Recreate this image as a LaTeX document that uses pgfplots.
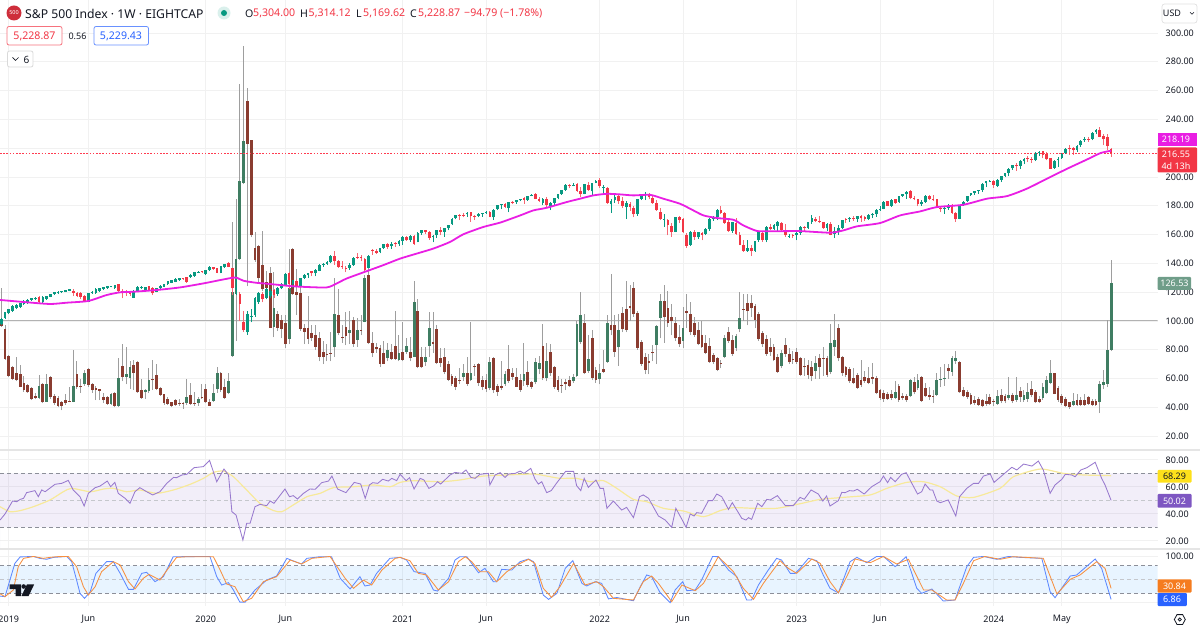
\documentclass[border=0pt]{standalone}
\usepackage{fontspec}
\usepackage{pgfplots}
\usepackage{pgfplotstable}
\pgfplotsset{compat=1.18}
\setmainfont{Noto Sans}
\definecolor{up}{HTML}{089981}
\definecolor{dn}{HTML}{F23645}
\definecolor{dotr}{HTML}{FF3B50}
\definecolor{bup}{HTML}{3F7D62}
\definecolor{bdn}{HTML}{8A3C30}
\definecolor{wk}{HTML}{9E9E9E}
\definecolor{gridc}{HTML}{F1F1F1}
\definecolor{txt}{HTML}{131722}
\definecolor{mag}{HTML}{E91EE3}
\definecolor{rsi}{HTML}{7E57C2}
\definecolor{rsima}{HTML}{F7E99A}
\definecolor{kb}{HTML}{2962FF}
\definecolor{do}{HTML}{F57C1F}
\definecolor{band}{HTML}{8C8F99}
% j o h l c  (weekly bars, j=0 is the first week of 2019)
\pgfplotstableread{
j o h l c
-1 100 123 96 96.5
0 94.5 97 73 73.5
1 76 76.5 61 62
2 68 69 59 60
3 64 75 58 59
4 63.5 69.5 54 54.5
5 57 62 51 52
6 55.5 56 50 50.5
7 53.5 54.5 45 45.5
8 48 50 45.5 46.5
9 46.5 62.5 46 55
10 56 57 43 43.5
11 44 63 44 56.5
12 61 62 46 47
13 48 49 42 43
14 46.5 48 40 41
15 43.5 44.5 38 41
16 45 49 42 43
17 44.5 54 43.5 44
18 44 80 43.5 55
19 63.5 72 53 54
20 55 60 50 54.5
21 56 66 55 64
22 66.5 67 54 55.5
23 56.5 57 50 52
24 53.5 55 45 52.3
25 52.5 53 45 51.5
26 47.5 50 43 45
27 47 48 42 42.5
28 42.5 50 42 49.5
29 50 51 40 41
30 41 74 40.5 60.5
31 68.5 84 58 61
32 61 82 56 63
33 60.5 72 53 68
34 69.5 73 52 64
35 71.5 72 50 50.5
36 52 60 46 46.5
37 50.5 53 46 52
38 51.5 67 50 59
39 59.5 73 52 59
40 62.5 70 52 53
41 53.5 54 48 48.5
42 49 49.5 42 43
43 45.5 47 42 42.5
44 43.5 44 40 41
45 45 46 41 41.5
46 43 46 41 42.5
47 43 44 39 42.5
48 43 60 42 47
49 48.5 57 42 42.5
50 43 51 41 42.5
51 43 47 41 46
52 47.3 56 46 47
53 53 56 43 43.5
54 44 46 41 41.3
55 44.5 56 44 50
56 52.5 68 50 64
57 64 64.5 51 52
58 54.5 60 46 46.5
59 50 64 49 58
60 75.8 169 75 120
61 119 185 86 143
62 143 264.5 142 197
63 196 291 195 225
64 252.5 262 124 223
65 225.8 226 158 159.5
66 150.8 162 141 142
67 152 153 127 130
68 138.8 162.5 121 122
69 127 135 115 123
70 133 137.6 95 95
71 95.6 133.7 88.7 108.8
72 104.6 107 93 95.4
73 101 104 88 94.7
74 98.4 104 81 83.9
75 87.5 150.3 84 122.6
76 150.3 151 118 118.7
77 120.3 136 104 118
78 119.6 125 93 94.3
79 95 98 84 92.4
80 95 117 84 87.5
81 91.5 97 86 88
82 90.3 97 80 82
83 88.5 92 72 75.3
84 78.8 86 70 75
85 77.2 84 72 76.5
86 78 92 72 77.3
87 81.6 130 75 104.9
88 104 122 90 91.5
89 89 97 85 88
90 95.6 106 83 89.6
91 91.5 107 84 94
92 100.7 103 82 84
93 87 102 82 93.8
94 94 104 90 93.3
95 99.6 132 99 130
96 131.6 137 84 84.6
97 84.6 92 75 77.6
98 81.8 85 78 80.6
99 81 83 68 70.3
100 77.6 86 70 70.3
101 74.2 85 72 79.5
102 78.8 84 73 73.5
103 82.7 107 73 73.5
104 73 90 72 77.6
105 78.7 99 72 73
106 78.7 88 77 82.7
107 78.7 89 72 74
108 75.3 128 75 112.9
109 107 115.5 67 68
110 74.8 82 67 67.7
111 71.4 82 69 75.3
112 82.7 106 75 95.4
113 85.7 106 78 83.8
114 94.2 97 70 70.7
115 74.1 81 68 71.1
116 74.8 81 63 64.4
117 70 72 58 59.1
118 61.9 63 55 56.1
119 60.3 62 52 54.5
120 59.1 67 56 58.7
121 61 70 58 63.7
122 63.7 75 55 56.4
123 58.7 99 58 63.7
124 68.8 70 62 68.4
125 70 71 55 56.8
126 59.1 62 52 54
127 59 63 51 52.7
128 53.4 75 52 71.4
129 74.1 75 50 51.8
130 55 56 48 51
131 55 72 52 53.8
132 56.4 65 55 63.3
133 66.8 83 57 58
134 63.7 67 59 61.4
135 61 67 54 54.5
136 58.7 63 51 52.2
137 58 85 55 63.3
138 64.4 72 54 55.7
139 57.3 58 53 54.5
140 57.3 74 56 71.8
141 66.5 76 63 71.1
142 82.7 98 59 60.3
143 60.3 85 58 72.3
144 78.3 84 62 63.7
145 67.9 69 53 54.5
146 59.1 62 51 52.2
147 55.7 60 50 55.2
148 57.3 60 52 56.1
149 59.1 62 54 55
150 58 63 57 61
151 61.9 100 61 97.9
152 85.7 120 84 104.4
153 98.8 105 63 63.7
154 65 90 64 73.4
155 88.4 94 59 60.3
156 66 68 57 58.7
157 59.6 70 56 64.2
158 66.5 80 64 64.9
159 71.8 104 71 98.8
160 97.2 132.5 90 93.4
161 97.2 104 75 78.7
162 81.7 105 69 93.7
163 105.7 110 92 94.2
164 108.3 128 92 93.7
165 110.4 125 100 108.7
166 122.6 127 103 104.6
167 105.7 107 80 81.5
168 85.7 87 69 70.2
169 75.3 78 63 66
170 72.3 77 63 70.7
171 78.7 83 72 77.6
172 83.4 97 70 96.5
173 102.3 119 88 113.8
174 114 125 85 102.5
175 108.7 121 96 98.4
176 102.5 112 90 99.7
177 98.8 103 86 88
178 89.1 97 82 83.8
179 86.4 110 81 94.9
180 107 119 95 105.7
181 104.6 113 90 92.1
182 98.4 103 89 90.3
183 93.7 99 83 83.8
184 90.3 100 81 82.2
185 85 90 77 78
186 82.9 88 71 71.8
187 76.4 78 70 71.4
188 74.1 75 65 66
189 71.1 73 67 70.7
190 75.3 90 74 88
191 92.1 96 85 86.4
192 86.8 90 76 77.1
193 80.9 91 79 89.6
194 94.2 120 92 101.8
195 108.3 119 100 107.8
196 112.7 119 97 106.9
197 112.2 118 103 108.7
198 110.4 112 95 100.7
199 104.8 106 86 87.3
200 91.9 93 82 83.8
201 87.5 90 76 76.9
202 81.7 88 76 78.7
203 82.2 84 72 73
204 75.3 77 64 64.9
205 68.4 80 67 78
206 83.4 88 75 76.9
207 77.1 81 70 71.4
208 73.7 79 70 73
209 78.7 81 70 71.4
210 74 75 62 62.6
211 68.5 74 62 68
212 69.5 73 60 62.6
213 67.9 72 58 61.9
214 65.6 76 60 70.7
215 74.1 77 60 67.9
216 74.6 82 62 74.1
217 74.6 76 61 62.6
218 64.9 98 63 84.5
219 82.2 105 76 86.8
220 94.9 98 72 74.1
221 75.3 76 62 63.7
222 67.9 69 61 62.6
223 66.5 68 57 58
224 60.3 67 56 56.8
225 62.6 64 53 53.8
226 58.7 73 54 55.7
227 61.4 65 57 58
228 60.3 68 56 56.8
229 61.4 71 56 59.6
230 60.3 62 49 49.9
231 52.2 53 45 46.4
232 49.9 52 44 45.8
233 49.4 51 45 45.8
234 49.4 52 45 46.4
235 46.4 58 46 50.6
236 55 56 44 45.3
237 47.6 50 45 46.4
238 48 49 44 44.8
239 47.6 60 47 58.7
240 57.3 61 49 50.4
241 53.8 63 52 59.1
242 61.4 62 44 44.6
243 53.4 57 47 47.6
244 48.8 54 45 47.1
245 48 52 43 47.1
246 48.8 64 48 58.7
247 59.1 68 54 59.8
248 59.6 70 55 60.3
249 67.2 70 60 65.6
250 64.9 76 62 74.1
251 72 79 70 74.1
252 71.8 72 50 50.4
253 52.2 54 47 47.6
254 51 52 46 47.1
255 48.8 50 42 42.3
256 44.8 48 42 43
257 45.8 47 41 41.8
258 44.8 46 40 41.1
259 44.1 49 41 42.5
260 47.1 49 42 42.3
261 44.1 46 41 43.7
262 42.5 52 42 47.6
263 48.3 53 43 44.1
264 47.6 49 43 44.1
265 46.4 61 45 48.8
266 48.8 50 43 44.1
267 45.3 61 44 48.8
268 51.5 54 44 47.1
269 44.8 52 44 48.8
270 46 57 44 50.4
271 52.7 58 47 48.8
272 50.4 52 43 43.4
273 45.8 48 43 43.7
274 46.4 57 45 54.5
275 49.9 62 49 59.1
276 56.8 73 56 63.7
277 63.7 64 49 49.4
278 53.4 55 44 45.3
279 48 49 42 43
280 45.8 47 40 40.7
281 43.4 44 39 40.2
282 41.8 50 41 44.1
283 45.3 49 41 41.8
284 44.8 47 41 41.8
285 45 49 41 42
286 47.1 48 42 42.3
287 44.1 46 41 41.8
288 44.6 46 41 41.4
289 43.4 58 36 56.4
290 55.4 66 53 57.3
291 56.4 100.7 54 79.9
292 79.9 142 79 126.53
}\vixdata
\pgfplotstableread{
j o h l c
-1 98 102 97 101.5
0 102 106.5 101.5 106
1 105.3 108.5 104.5 108.1
2 107.2 110.8 106.5 110.4
3 108.8 111.5 108 111
4 109.5 112.6 109 112.2
5 111.8 114.3 111 113.9
6 112.2 115 111.7 114.6
7 114.6 116 114 115.7
8 115.2 116.5 114.8 116.2
9 116.9 117.2 112.3 113
10 113 117.2 112.5 116.9
11 115.2 117.6 114.8 117.3
12 116.9 118.9 116.4 118.5
13 118.5 120.2 118 119.9
14 119.2 120.7 118.7 120.3
15 119.9 121.1 119.4 120.8
16 120.3 121.8 120 121.5
17 121 122.5 120.5 122.2
18 120.5 122 117 119.5
19 119.6 120.4 116.5 117.3
20 119.2 120 115.3 116.9
21 117.3 118 113 114.1
22 113.4 119.5 113 119.2
23 119.2 120.5 118.8 120.1
24 119.2 122.6 118.8 122.2
25 120.8 123 120.4 122.6
26 122.2 123.6 121.5 123.3
27 122.6 124.6 122.3 124.2
28 123.8 124.6 123.3 124.2
29 122.6 125.3 122.2 124.9
30 125.4 125.8 120 121
31 121 122 115.7 119.2
32 121 121.5 117.3 119.2
33 120.3 121 117.5 118.7
34 116.2 121.2 115.8 120.8
35 120.3 124.2 120 123.8
36 122.6 124.2 122 123.8
37 121.5 123.7 121 123.3
38 124.2 124.6 121 121.5
39 123.1 123.6 118 119.2
40 120.3 123 119.8 122.6
41 122.6 124.9 122.2 124.5
42 123.8 125.8 123.4 125.4
43 125.4 128 125 127.7
44 126.6 128.8 126.2 128.4
45 127.2 129.5 126.8 129.1
46 128.4 129.9 128 129.5
47 129.5 129.9 128.6 129
48 130.2 130.6 126.5 127.2
49 130.2 132.3 129.8 131.9
50 131.2 134 130.8 133.7
51 133.7 134.6 133.3 134.2
52 134.6 135 133.3 133.7
53 132.5 135.7 132 135.3
54 135.3 138 135 137.6
55 137.2 137.6 135.4 135.8
56 136.5 137 133 133.5
57 133.5 138.4 133 138
58 137.2 139.9 136.8 139.5
59 140.4 140.9 137.2 137.6
60 136.5 137 118 122.6
61 122 130 118 123
62 119 120 100 112
63 99.5 107 92.5 93.5
64 92 107 90.5 105
65 103 108 99 103.5
66 104 116.7 103 115.8
67 113.5 120 112 119.2
68 119 120 113 115
69 116 123 115 122.5
70 117.5 122 116 121
71 121.5 122.5 116 118
72 118.7 123.5 117.5 122.6
73 122.6 126.5 122 125.9
74 125 133 124.5 132.3
75 133 134 122 125.5
76 126 128.8 123 128.3
77 128 129 124 124.6
78 124.6 129.8 123.5 129.6
79 130 132.3 129 131.8
80 132 133.5 130 133
81 134.5 135 131 133.1
82 133 136 131 135.5
83 135 139.5 134.5 139
84 139 140 137.5 139.7
85 139.7 141.5 139 140.7
86 140.7 145.5 140 145.3
87 145.3 148.6 139 141.9
88 141.5 142.5 137 137.8
89 138.5 141.5 136 137.4
90 137 138.5 133.8 136.6
91 137 140.5 135.5 138.7
92 139 144.5 138.5 144
93 144.5 147.5 143 144.2
94 144.5 146 141.5 143.5
95 143 143.5 134.5 135.4
96 137 146 136.5 145.3
97 149 150 146 148.5
98 148.5 150 146.5 147.3
99 148 151 147 150.7
100 151 153.7 150 153.2
101 153.5 154 150 151.7
102 151.8 154.5 150 153.6
103 154 155 151.5 153.4
104 153.7 156.5 152 155.6
105 155.8 158.8 153 158.4
106 158.2 158.7 155.8 156
107 156 159.5 155 159
108 159 159.8 153 153.8
109 155 161.5 154.5 161
110 161.2 163.2 160 162.9
111 163 163.5 160.5 161.8
112 161.5 162.5 156.5 157.8
113 158 160 154.5 159.1
114 159.5 163.5 157.5 163.3
115 163 165 159.5 162.1
116 162 164.8 158.5 164.6
117 164.5 166.8 163 166.4
118 167 171.2 166.8 171
119 171.2 173.5 170.5 173.3
120 173.3 174 170 173.1
121 173.4 175 172 173.2
122 174 175.5 172.5 175.3
123 175.5 175.8 169 172.8
124 173 173.8 170 172.1
125 173 175 172 174.1
126 174.3 175.3 172.5 175.1
127 175.3 176.3 174.5 175.9
128 176 176.3 172 172.5
129 172 177.5 170.2 177.3
130 177.5 180.4 177 180.2
131 180.3 181.3 177.5 180.9
132 181 182.2 178.8 179.2
133 178.5 182.8 175.5 182.7
134 182.8 183.5 181 182
135 182.3 184 181.5 183.7
136 183.8 185 183 185
137 185.3 185.8 181.5 183.9
138 184.2 186.9 183.5 186.7
139 187 188.3 186.5 187.8
140 188 188.6 184.5 184.6
141 185 186.3 182.5 183.6
142 182 185.5 180.5 184.5
143 185 186 178.5 180.4
144 180 182.5 177 181.9
145 182 185.5 180.5 185.2
146 185.5 188.5 184.5 188.2
147 188.5 191 187.5 190.7
148 191 195 190.5 194.5
149 194.6 195.2 192 193.9
150 194.2 196 193.5 194.5
151 195 196 189.8 190.3
152 190.5 193 186.3 187.9
153 188.5 195.3 188 195.1
154 194.5 196.5 190.5 191.3
155 190 196 186.5 195.7
156 196 197.7 195.5 197.4
157 197.8 199 192.5 193.7
158 193 194.5 189 193.1
159 192.5 193 181.5 182.1
160 181 184.5 175 183.5
161 184 187.5 182 186.4
162 186.5 187.5 181.5 183
163 183 186 178.5 180.1
164 179 183 170.8 181.6
165 181 182.5 176.5 179.2
166 178.5 179.5 172 174.1
167 174.5 185 173 184.8
168 185 188.5 184 188.1
169 188 189.5 184 188.2
170 188.3 189 184.5 185.9
171 185.5 186.5 181.5 181.9
172 182 184 176.5 176.9
173 176 178.5 170 171.1
174 170.5 174.5 165.5 170.8
175 170 171 159.5 166.6
176 166 168 158.5 161.6
177 162 172.4 161.5 172.2
178 172 173 168 170.1
179 171 171.5 161 161.5
180 160 161 151 152.2
181 152.8 162.5 152 162
182 162 163 156.5 158.4
183 158 162 157 161.5
184 161 161.5 156 160
185 160.5 164.5 159.5 164
186 164 171.5 162.5 171
187 170.5 173 169.5 171.7
188 172 178 170 177.3
189 177 179.5 174.5 175.1
190 175 176 167.5 168
191 168.5 170 162 162.5
192 162.5 169 161 168.4
193 168 171.5 160 160.4
194 160 162 152.5 152.9
195 152.5 156 148 148.5
196 148.5 156 148 150.7
197 150.5 152.5 145 148.4
198 148.5 155.8 148 155.4
199 156 162.5 155 161.6
200 161 162.5 155 156.1
201 156 166 154.5 165.3
202 165 167.5 163 164.2
203 164 167 163.5 166.7
204 166 169.5 162.5 168.6
205 168.3 168.5 162.5 162.9
206 163.5 167.5 158.5 159.5
207 159 160.5 157.5 159.2
208 159.5 160.5 157.5 159
209 159.5 162 156 161.3
210 161 166 160 165.6
211 165.5 166 162.5 164.5
212 164.5 169 164 168.6
213 168.5 173.5 167.5 171.3
214 171 172 168.5 169.4
215 169.5 172.7 168 168.9
216 168.5 169 164 164.4
217 164.5 168 162.5 167.5
218 167.5 168.8 159.5 159.9
219 160.5 165 157.5 162.2
220 162.5 166.5 160 164.5
221 164.8 170.3 164 170.2
222 170.5 171.5 168 170
223 170.5 172.5 169 171.3
224 171.5 172.6 169.5 171.2
225 170.8 173 168.5 172.7
226 172.8 173.5 168.8 171.3
227 172 173 169.5 170.8
228 171 174 170 173.6
229 173.5 175 171.5 174.2
230 174 178 172.5 177.3
231 177.7 179.5 176.5 178
232 178 183 177.5 182.6
233 183 183.5 179.5 180.1
234 180 184.5 179 184.3
235 184.5 185 181.5 182.1
236 182.5 187 182 186.6
237 186.8 188.5 186 187.9
238 188 190 185 189.8
239 190 190.8 184.5 185.5
240 185.5 187 184 184.9
241 184.5 185 179.5 180.9
242 181 184 180 182.4
243 182.5 187.5 182 187
244 187 187.5 183.8 184.6
245 185 187.3 183.5 184.3
246 184.5 185 178.5 178.9
247 178.5 179.5 175.5 177.6
248 178 179.5 174.5 178.4
249 178.5 181.5 177 179.2
250 179.5 181 174.5 174.9
251 175 175.5 169 170.5
252 171 180.7 170.5 180.5
253 180.7 183 180 182.8
254 183 187 182.5 186.9
255 187.2 189.2 186.8 188.8
256 189 190.5 187.5 190.3
257 190.2 191 188.5 190.7
258 191 195.6 189.5 195.4
259 195.5 197 193 196.9
260 197 198 196.5 197.5
261 197.4 197.7 192.5 194.5
262 194 198.5 193 198.1
263 198 200.5 196.5 200.4
264 201 203 200 202.6
265 202.8 206 200.5 205.4
266 206 208.5 205 208.2
267 208.5 209.5 204 207.3
268 207.5 211.5 205.5 210.8
269 211 213 209 212.7
270 213 214.5 210.5 212.2
271 212.5 214 210 211.9
272 212 217.5 211 216.8
273 217 218 214.5 217.6
274 218 218.2 213 215.5
275 216 217.5 211.5 212.2
276 213 213.5 205.5 205.7
277 206.5 212 205.5 211.2
278 211.5 214 207 212.4
279 213 216.5 212.5 216.3
280 216.5 220 216 219.6
281 220 222 215.5 219.7
282 220 221 215.5 218.6
283 219 222.5 217.5 221.4
284 222 225.5 221 224.9
285 225.5 228 224.5 226.3
286 226.5 227.5 224.5 226.1
287 226.5 231 225.5 230.6
288 231 233.5 229.5 232.5
289 232.5 235 227.5 228
290 228.5 230 222 226.1
291 227.5 230 218.5 221.4
292 219.66 220.07 214.1 216.55
}\spxdata
\newcommand\ubars[3]{\addplot[draw=none,mark=none,forget plot,restrict expr to domain={\thisrow{c}-\thisrow{o}}{0:100000},
  error bars/.cd,y dir=plus,y explicit,error mark=none,error bar style={draw=#2,line width=#3}]
  table[x=j,y=o,y error plus expr=\thisrow{c}-\thisrow{o}]{#1};}
\newcommand\dbars[3]{\addplot[draw=none,mark=none,forget plot,restrict expr to domain={\thisrow{o}-\thisrow{c}}{0:100000},
  error bars/.cd,y dir=plus,y explicit,error mark=none,error bar style={draw=#2,line width=#3}]
  table[x=j,y=c,y error plus expr=\thisrow{o}-\thisrow{c}]{#1};}
\newcommand\uwick[3]{\addplot[draw=none,mark=none,forget plot,restrict expr to domain={\thisrow{c}-\thisrow{o}}{0:100000},
  error bars/.cd,y dir=plus,y explicit,error mark=none,error bar style={draw=#2,line width=#3}]
  table[x=j,y=l,y error plus expr=\thisrow{h}-\thisrow{l}]{#1};}
\newcommand\dwick[3]{\addplot[draw=none,mark=none,forget plot,restrict expr to domain={\thisrow{o}-\thisrow{c}}{0:100000},
  error bars/.cd,y dir=plus,y explicit,error mark=none,error bar style={draw=#2,line width=#3}]
  table[x=j,y=l,y error plus expr=\thisrow{h}-\thisrow{l}]{#1};}
\pgfplotsset{pane/.style={
  scale only axis,width=1157.5pt,xmin=-1.32,xmax=304.25,
  xtick={1,22,53,74,105,127,157,179,209,231,261,279},
  xmajorgrids,ymajorgrids,grid style={draw=gridc,line width=0.9pt},
  axis line style={draw=none},tick style={draw=none},
  yticklabel pos=right,
  yticklabel style={anchor=west,inner sep=0pt,xshift=8pt,font=\fontsize{9}{9}\selectfont,text=txt,
    /pgf/number format/.cd,fixed,fixed zerofill,precision=2,assume math mode=true},
  scaled y ticks=false,
  anchor=south west}}
\begin{document}
\begin{tikzpicture}[x=1pt,y=1pt]
\path[use as bounding box] (0,0) rectangle (1200,627);
% main pane
\begin{axis}[pane,at={(0pt,178pt)},height=449pt,ymin=11.1,ymax=322.9,
  ytick={20,40,...,300},xticklabels={},
  yticklabels={20.00,40.00,60.00,80.00,100.00,120.00,140.00,160.00,180.00,200.00,,240.00,260.00,280.00,300.00}]
\addplot[forget plot,color=black!30,line width=1pt] coordinates {(-1.32,100)(304.25,100)};
\uwick{\vixdata}{wk}{1pt}
\dwick{\vixdata}{wk}{1pt}
\ubars{\vixdata}{bup}{2.8pt}
\dbars{\vixdata}{bdn}{2.8pt}
\uwick{\spxdata}{up}{0.9pt}
\dwick{\spxdata}{dn!75}{0.9pt}
\ubars{\spxdata}{up}{2.7pt}
\dbars{\spxdata}{dn}{2.7pt}
\addplot[forget plot,draw=dotr,line width=1.1pt,dash pattern=on 1.6pt off 1.6pt,line cap=butt] coordinates {(-1.32,216.55)(304.25,216.55)};
\addplot[forget plot,color=mag,line width=1.8pt,smooth,tension=0.4] coordinates {
(-1.3,114.6)(5.7,113)(11.9,111.8)(16.3,112.7)(22,113.9)(26.8,118)(30.4,119.9)(33.9,120.3)(40,121.5)(46.2,123.3)(52.4,126.1)(56.8,128.4)(60,130)(61.2,130)(63,127.9)(66.4,126.5)(69.1,125.9)(74.4,124.5)(77.9,123.8)(84.9,123.3)(87.6,126.1)(90.2,129.5)(95.5,134.6)(99.9,138.8)(104.3,143.3)(108.7,146.8)(113.1,150.3)(117.5,154.9)(121,160.2)(126.3,165.3)(130.7,168.3)(136,173.3)(139.5,176.8)(143,178.6)(148.3,182.6)(151.8,184.9)(155.3,187.2)(158.9,188.3)(162.4,187.9)(165.9,187.2)(170.3,187.6)(173.8,184.9)(178.2,181.4)(181.7,176.8)(184.4,173.3)(187.9,171.5)(192.3,170.3)(194.9,166.4)(198.5,162.5)(202,162.3)(209.9,162.4)(217.8,161.3)(221.3,162.9)(224.9,165.7)(231,168)(236.3,173.3)(241.6,176.1)(246,179.1)(253,180.7)(259.2,184.9)(264.5,186.7)(269.7,191.8)(275,198.7)(280.3,205.6)(285.6,212.1)(289.1,216.5)(291.3,217.9)(292,218.19)};
\end{axis}
% RSI pane
\begin{axis}[pane,at={(0pt,79pt)},height=98pt,ymin=14.7,ymax=87.3,ytick={20,40,60,80},xticklabels={}]
\addplot[forget plot,fill=rsi,fill opacity=0.1,draw=none] coordinates {(-1.32,30)(304.25,30)(304.25,70)(-1.32,70)} \closedcycle;
\addplot[forget plot,color=band,line width=0.9pt,dash pattern=on 4pt off 3pt] coordinates {(-1.32,70)(304.25,70)};
\addplot[forget plot,color=band!50,line width=0.9pt,dash pattern=on 4pt off 3pt] coordinates {(-1.32,50)(304.25,50)};
\addplot[forget plot,color=band,line width=0.9pt,dash pattern=on 4pt off 3pt] coordinates {(-1.32,30)(304.25,30)};
\addplot[forget plot,color=rsima,line width=1.2pt,smooth,tension=0.4] coordinates {
(-1.3,45.3)(1.3,41.6)(4,42.4)(7.5,45.3)(11.9,50.3)(15.4,56.4)(17.6,58.9)(22.5,56.4)(26,58.4)(28.6,58.9)(32.1,56.4)(35.6,57.7)(40,55.2)(44.5,57.7)(48.9,61.9)(52.4,66.3)(55,70.7)(57.7,71.7)(60.3,67.5)(63.8,57.7)(67.3,47.8)(70.9,42.4)(73.1,41.6)(76.1,46.6)(79.7,52.7)(83.2,55.2)(86.7,59.4)(92,60.1)(97.3,61.4)(101.7,60.1)(104.3,63.3)(107.8,64.6)(114.9,63.8)(120.1,65.1)(126.3,68)(132.5,68.8)(139.5,69.5)(143,68)(146.5,66.3)(150.9,66.3)(154.5,63.8)(158,64.6)(161.5,58.9)(165.9,50.7)(169.4,49)(173.8,44.1)(179.1,42.1)(184.4,37.9)(188.8,42.4)(192.3,44.6)(197.6,44.1)(203.7,44.1)(209.9,47.5)(215.2,50.7)(221.3,52.2)(228.4,54)(232.8,58.9)(238,63.3)(242.5,63.8)(246.9,60.1)(251.3,53.2)(255.7,52.2)(262.7,58.9)(266.2,67.5)(273.3,73.2)(279.4,70)(284.7,68.8)(292,68.29)};
\addplot[forget plot,color=rsi!80,line width=0.85pt] coordinates {
(-1.3,35.4)(0,39.9)(2,49.5)(3.1,49)(4,50.7)(4.9,51.5)(5.7,55.7)(7.9,57.2)(8.8,52.7)(9.7,57.7)(10.6,56.4)(13.2,61.9)(15,62.6)(16.7,64.8)(18,57.7)(19.8,52.7)(20.9,45.8)(22,55.2)(23.8,59.4)(25.1,60.6)(27,64.3)(27.9,60.1)(29,63.3)(29.9,55.2)(31.7,51.5)(33,47.8)(34.3,56.4)(35.6,59.4)(37.4,56.4)(39,54)(40.9,56.4)(42.7,62.6)(44.5,67)(45.3,66.8)(46.7,68.8)(48,69.3)(49.9,74.2)(52.4,75)(54,79.6)(55.9,63.8)(57.8,73.2)(59,68.8)(59.9,41.6)(61,39.1)(62.8,20.6)(63.8,33)(64.7,33)(66,45.3)(67.3,47)(69.1,46.1)(70,49.5)(71,47.8)(73.9,58.4)(75.1,52.7)(76.1,53.5)(77.2,51)(78.8,55.2)(80.5,58.4)(81.9,58.2)(83.6,63.1)(85.4,64.3)(86.3,68)(87.8,58.4)(90,55.7)(92.2,63.3)(93.9,62.1)(95.1,51.5)(96.2,61.4)(97.1,63.1)(98.4,62.6)(99.7,65.6)(101.2,64.3)(102.1,66.3)(103.4,64.6)(104.3,69.3)(105.9,64.6)(106.8,66.8)(108,58.4)(109.6,66.3)(110.6,65.1)(111.9,58.9)(113.1,60.6)(114.2,63.8)(115,62.1)(117.5,68.8)(118.8,70.7)(120.6,70)(121.7,72.5)(123,67)(124.1,66.3)(125.4,69.3)(127.6,70)(128,61.4)(129.4,68.8)(130.7,70.5)(132,67)(132.9,69.5)(134.7,70)(136,71.7)(137,70)(138.8,73.7)(139.9,65.8)(140.8,62.1)(141.7,63.8)(143,55.7)(144.2,57.2)(145.7,63.1)(148,71.5)(150.1,71.5)(150.9,60.9)(152,57.2)(152.9,66.3)(154,59.6)(156,65.1)(157.1,58.9)(158,58.9)(158.9,44.1)(160.6,49.5)(162.8,42.8)(164.1,44.8)(165.9,37.2)(167.5,52.7)(168.5,54)(169.9,51.5)(172.5,38.4)(174.3,35.4)(176,30)(177.1,44.1)(178.7,35.9)(179.8,30)(180.9,39.9)(181.9,38.4)(182.6,40.9)(183.9,40.4)(185.7,49.8)(186.8,49.8)(187.9,54.7)(189.2,52.7)(191,43.3)(192,48.3)(194.5,36.7)(195.6,35.4)(196.3,37.2)(197.1,35.9)(198.7,47.8)(199.8,45.3)(201.1,50.7)(202,50.3)(203.9,53.5)(206,46.1)(208.1,46.1)(209.9,52.2)(211,50.8)(212.8,57.7)(214.7,54.7)(215.9,49.5)(216.9,53.2)(217.8,45.8)(220,49.8)(220.9,55.9)(221.8,55.7)(222.9,57.2)(224,56.9)(225,58.2)(226.8,54.7)(228.8,60.1)(231,63.8)(231.9,68)(233,63.1)(233.8,67)(235,63.8)(236.7,69.3)(237.9,70.5)(239.4,62.6)(240.9,54.7)(242,56.4)(242.9,62.1)(244.2,57.7)(244.9,57.7)(246,49.5)(246.9,48.3)(249,50.3)(251,38.4)(252,52.7)(253.9,58.9)(255.7,62.6)(257,62.6)(258.3,68)(260.1,69.5)(261.1,63.3)(263.6,69.3)(265.8,74.5)(267.1,72.5)(268.9,76.9)(271.1,75.4)(272.8,79.1)(274.1,72.5)(275.9,55.2)(277.2,61.4)(279,65.6)(279.9,69.3)(281.6,68.8)(282.5,67.5)(284,72.5)(285.6,74.2)(287.8,78.2)(289.5,66.3)(290.4,61.4)(292,50.02)};
\end{axis}
% Stochastic pane
\begin{axis}[pane,at={(0pt,21pt)},height=56pt,ymin=-7.4,ymax=114,ytick={0,100},yticklabels={,100.00},
  xticklabels={2019,Jun,2020,Jun,2021,Jun,2022,Jun,2023,Jun,2024,May},
  xticklabel style={anchor=center,inner sep=0pt,yshift=-13pt,font=\fontsize{9}{9}\selectfont,text=txt}]
\addplot[forget plot,fill=kb!70!cyan,fill opacity=0.1,draw=none] coordinates {(-1.32,20)(304.25,20)(304.25,80)(-1.32,80)} \closedcycle;
\addplot[forget plot,color=band,line width=0.9pt,dash pattern=on 4pt off 3pt] coordinates {(-1.32,80)(304.25,80)};
\addplot[forget plot,color=band!50,line width=0.9pt,dash pattern=on 4pt off 3pt] coordinates {(-1.32,50)(304.25,50)};
\addplot[forget plot,color=band,line width=0.9pt,dash pattern=on 4pt off 3pt] coordinates {(-1.32,20)(304.25,20)};
\addplot[forget plot,color=kb!75,line width=0.85pt] coordinates {
(-1.3,14)(0,12.8)(1.3,48.9)(2.6,85)(4,99)(7.5,100)(9.2,95.9)(11,93.8)(12.8,98)(16.3,100)(17.6,88.7)(18.9,48.9)(19.8,20)(21,9.2)(22.5,23.6)(24,63.4)(26.8,88.7)(28.6,88.7)(30.4,63.4)(32.6,28.7)(33.9,28.7)(36.1,63.4)(37.4,65.6)(39.6,45.3)(41.8,56.2)(44.4,99.5)(46.2,99.5)(54.1,100)(55.9,56.2)(57.2,38.1)(59,43.2)(60.3,27.3)(62,1)(63.4,1)(66,27.3)(69.1,48.9)(71.7,57.6)(74.4,95.9)(76.6,88.7)(78.3,83.6)(79.7,95.9)(83.2,99.5)(86.2,99.5)(88.5,52.6)(91.1,29.5)(93.7,56.2)(95,36)(96.4,38.1)(98.1,63.4)(101.6,95.9)(104.3,98)(106,92.3)(108,67)(110.9,63.4)(113.1,27.3)(114.2,25)(117.1,52.6)(118.8,92.3)(120.1,99.5)(121.9,99.5)(125,64.8)(126.7,74.2)(128.9,45.3)(129.8,45.3)(131.1,72)(133.8,70.6)(136,88.7)(138.2,94.5)(139.5,88.7)(142.1,16.4)(143.5,7)(145.7,20)(147.9,74.2)(149.9,90.9)(152.3,41.7)(153.6,36)(155.8,45.3)(157.5,41.7)(159.3,8)(161.5,11)(165.9,4)(167.7,34.5)(169.4,59.8)(170.7,56.2)(172.9,22)(175.6,0)(176.9,27.3)(178.9,45.3)(180,25.8)(182.2,27.3)(183.9,48.9)(186.8,100)(188.3,99.5)(191,70.6)(193.2,56.2)(195.8,5.6)(197.1,5.6)(198.9,38.1)(201.5,70.6)(203.7,95.9)(205,92.3)(207.3,63.4)(208.6,63.4)(209.9,74.2)(212.1,95.9)(214.3,90.8)(216,59.8)(217.8,30.9)(220,21)(223.1,88.7)(224.9,98)(227.5,86.4)(230.1,100)(231.9,100)(235,77.9)(237.9,99.5)(240.7,30.9)(242,20)(244.7,29.4)(247.7,3.4)(250.8,5.6)(253.9,77.9)(255.7,98)(258.3,100)(261.8,93.8)(264.9,100)(268,98)(273.7,95.9)(275.9,23.6)(277.2,10.6)(281.2,57.6)(282.9,59.8)(287.8,94.5)(289.5,74.2)(292,6.86)};
\addplot[forget plot,color=do!85,line width=0.85pt] coordinates {
(-1.3,19)(0,12.8)(2.2,27.3)(3.5,77.9)(4.9,95.9)(7.5,100)(10.1,95.9)(11.9,98)(13.7,99.5)(16.7,100)(18.9,77.9)(20.7,34.5)(22,16.4)(23.8,34.5)(25.5,67)(28.6,88.7)(30.4,81.5)(32.6,45.3)(34.3,29.4)(36.5,52.6)(38,61.2)(40.9,48.9)(43.1,74.2)(45.3,98)(48,99.5)(55,99.5)(56.8,70.6)(58.5,40.3)(60.7,34.5)(62.9,2)(65.1,9.2)(68.2,45.3)(71.7,56.2)(75.3,92.3)(78.3,83.6)(81,95.9)(85.8,100)(89.8,52.6)(92,30.9)(94.6,48.9)(96.8,38.1)(99.5,70.6)(103,95.9)(104.3,98)(106.9,90.8)(109.1,63.4)(111.3,59.8)(114.4,27.3)(117.1,45.3)(119.7,88.7)(121.5,99.5)(123.2,88.7)(125.4,67)(127.6,67)(129.8,45.3)(132.5,67)(135.1,81.5)(138.2,93.8)(139.9,85.1)(142.1,30.9)(144.3,11.3)(146.5,34.5)(150.1,85.1)(153.1,38.1)(156.2,45.3)(158,34.5)(160.6,9.2)(165.9,5.6)(168.5,45.3)(170.7,57.6)(172.5,41.7)(176,2)(178.7,38.1)(182.2,25.8)(184.4,41.7)(188.3,99.5)(192.3,67)(194.9,30.9)(197.6,7)(200.2,41.7)(204.6,90.8)(206.8,74.2)(209,63.4)(213,94.5)(215.2,85.1)(217.8,45.3)(220,21)(222.2,56.2)(224.4,94.5)(228.4,86.4)(231.9,100)(235.4,83.6)(238.5,93.8)(242.5,27.3)(244.7,27.3)(248.6,5.6)(250.8,5.6)(253,41.7)(255.7,90.8)(258.7,100)(262.7,93.8)(266.2,99.5)(274.1,95.9)(277.7,18.6)(281.2,50.4)(283.8,59.8)(288.2,88.7)(290.4,74.2)(292,30.84)};
\end{axis}
% everything below is in pixels, y from the top
\begin{scope}[yscale=-1,yshift=-627pt,
  hd/.style={font=\fontsize{12.2}{12.2}\selectfont,text=txt,inner sep=0pt,anchor=west},
  ov/.style={font=\fontsize{10.6}{10.6}\selectfont,inner sep=0pt,anchor=west},
  tg/.style={font=\fontsize{9}{9}\selectfont,inner sep=0pt,anchor=center,text=white}]
\draw[draw=black!10,line width=2pt] (0,450)--(1200,450);
\draw[draw=black!10,line width=2pt] (0,549)--(1200,549);
% header
\fill[fill=dn!85!black] (14,13) circle (7.5);
\node[font=\fontsize{5.5}{5.5}\selectfont\bfseries,text=white,inner sep=0pt] at (14,13) {500};
\node[hd] at (25,13.5) {S\&P 500 Index · 1W · EIGHTCAP};
\fill[fill=up!15] (224,13) circle (6.5);
\fill[fill=up] (224,13) circle (3);
\node[ov,text=txt] at (245,13.5) {O};
\node[ov,text=dn] at (253,13.5) {5,304.00};
\node[ov,text=txt] at (300,13.5) {H};
\node[ov,text=dn] at (308.5,13.5) {5,314.12};
\node[ov,text=txt] at (356,13.5) {L};
\node[ov,text=dn] at (363,13.5) {5,169.62};
\node[ov,text=txt] at (410,13.5) {C};
\node[ov,text=dn] at (418,13.5) {5,228.87};
\node[ov,text=dn] at (464,13.5) {−94.79 (−1.78\%)};
\draw[draw=dn!70,fill=white,rounded corners=2pt,line width=0.8pt] (7,26.5) rectangle (62,45);
\node[ov,text=dn,anchor=center] at (34.5,36) {5,228.87};
\node[font=\fontsize{9}{9}\selectfont,text=txt,inner sep=0pt] at (77.5,36) {0.56};
\draw[draw=kb!70,fill=white,rounded corners=2pt,line width=0.8pt] (94,26.5) rectangle (148.5,45);
\node[ov,text=kb,anchor=center] at (121,36) {5,229.43};
\draw[draw=black!15,fill=white,rounded corners=2pt,line width=0.8pt] (7.5,51) rectangle (33,67);
\draw[draw=txt,line width=0.7pt] (12.5,57.5)--(15.5,60.5)--(18.5,57.5);
\node[font=\fontsize{10}{10}\selectfont,text=txt,inner sep=0pt] at (26.5,59.5) {6};
% USD
\draw[draw=black!12,fill=white,rounded corners=2.5pt,line width=0.7pt] (1162,4) rectangle (1197,23);
\node[font=\fontsize{9}{9}\selectfont,text=txt,inner sep=0pt] at (1172,13.5) {USD};
\draw[draw=txt,line width=0.6pt] (1190,12.3)--(1192,14.3)--(1194,12.3);
% tags
\fill[fill=mag] (1157.5,133) rectangle (1197,146);
\node[tg] at (1176,139.7) {218.19};
\fill[fill=dn,rounded corners=1pt] (1157.5,147.5) rectangle (1197,172.3);
\node[tg] at (1176,154.3) {216.55};
\node[tg] at (1176,166) {4d 13h};
\fill[fill=bup!75,rounded corners=1pt] (1157.5,277) rectangle (1191,290);
\node[tg] at (1174.5,283.5) {126.53};
\fill[fill=yellow!80!orange!90,rounded corners=1pt] (1157.5,470) rectangle (1191.5,482.7);
\node[tg,text=txt] at (1174.5,476.5) {68.29};
\fill[fill=rsi,rounded corners=1pt] (1157.5,494) rectangle (1191.5,507.7);
\node[tg] at (1174.5,501) {50.02};
\fill[fill=do,rounded corners=1pt] (1157.5,579.3) rectangle (1191.5,592.7);
\node[tg] at (1174.5,586) {30.84};
\fill[fill=kb,rounded corners=1pt] (1157.5,593) rectangle (1186.8,606);
\node[tg] at (1172,599.5) {6.86};
% logo
\fill[fill=txt] (9.5,584.3)--(21,584.3)--(21,596)--(15.5,596)--(15.5,589)--(9.5,589)--cycle;
\fill[fill=txt] (23.7,586.5) circle (2.3);
\fill[fill=txt] (27,584.3)--(34.2,584.3)--(28.6,596)--(21.5,596)--cycle;
% gear
\draw[draw=txt,line width=0.8pt] (1174.3,619.5)--(1177,614.6)--(1182.6,614.6)--(1185.3,619.5)--(1182.6,624.4)--(1177,624.4)--cycle;
\draw[draw=txt,line width=0.8pt] (1179.8,619.5) circle (1.6);
\end{scope}
\end{tikzpicture}
\end{document}
